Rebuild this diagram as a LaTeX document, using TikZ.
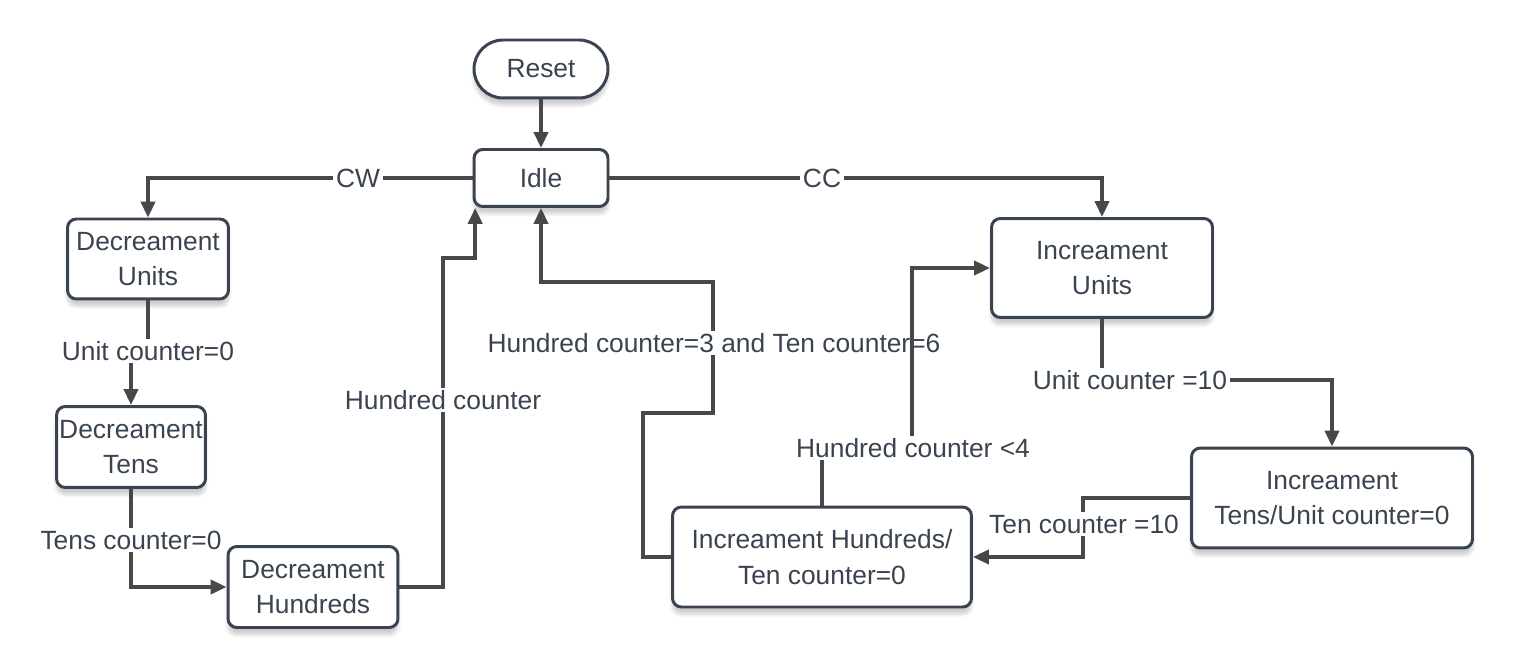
\documentclass[tikz,border=0pt]{standalone}
\usepackage{fontspec}
\setmainfont{Liberation Sans}
\usetikzlibrary{arrows.meta,shadows.blur}
\definecolor{boxc}{RGB}{58,68,80}
\definecolor{linec}{RGB}{72,72,72}
\begin{document}
\begin{tikzpicture}[x=0.02cm,y=-0.02cm,
  every node/.style={text=boxc, font=\fontsize{15}{20.4}\selectfont},
  state/.style={draw=boxc, line width=1.7pt, rounded corners=5pt, fill=white, align=center, inner sep=0pt,
    blur shadow={shadow xshift=0pt, shadow yshift=-4pt, shadow blur steps=6, shadow opacity=20}},
  conn/.style={draw=linec, line width=2pt, -{Triangle[length=9pt,width=8pt]}},
  lab/.style={fill=white, inner sep=1.5pt}]
\useasboundingbox (0,0) rectangle (1513,668);

\node[state, minimum width=2.68cm, minimum height=1.16cm, rounded corners=0.58cm] (reset) at (541,69) {Reset};
\node[state, minimum width=2.68cm, minimum height=1.14cm] (idle) at (541,178) {Idle};
\node[state, minimum width=3.22cm, minimum height=1.6cm] (du) at (148,259) {Decreament\\Units};
\node[state, minimum width=2.98cm, minimum height=1.62cm] (dt) at (131,447) {Decreament\\Tens};
\node[state, minimum width=3.4cm, minimum height=1.62cm] (dh) at (313,587) {Decreament\\Hundreds};
\node[state, minimum width=4.42cm, minimum height=1.98cm] (iu) at (1102,268) {Increament\\Units};
\node[state, minimum width=5.62cm, minimum height=2cm] (it) at (1332,498) {Increament\\Tens/Unit counter=0};
\node[state, minimum width=5.98cm, minimum height=2cm] (ih) at (822,557) {Increament Hundreds/\\Ten counter=0};

\draw[conn] (reset) -- (idle);

\draw[conn] (idle.west) -| (du.north);
\node[lab] (lcw) at (358,178) {CW};

\draw[conn] (idle.east) -| (iu.north);
\node[lab] (lcc) at (822,178) {CC};

\draw[conn] (du.south) -- (148,351) -- (131,351) -- (dt.north);
\node[lab] (luc) at (148,351) {Unit counter=0};

\draw[conn] (dt.south) |- (dh.west);
\node[lab] (ltc) at (131,540) {Tens counter=0};

\draw[conn] (dh.east) -| (443,258) -| ([xshift=1.5pt]idle.south west);
\node[lab] (lhc) at (443,400) {Hundred counter};

\draw[conn] (ih.west) -| (643,413) -| (713,282) -| (idle.south);
\node[lab] (lhc3) at (714,343) {Hundred counter=3 and Ten counter=6};

\draw[conn] (ih.north) -- (822,448) -- (912,448) |- (iu.west);
\node[lab] (lhc4) at (913,448) {Hundred counter <4};

\draw[conn] (iu.south) |- (1332,380) -- (it.north);
\node[lab] (luc10) at (1130,380) {Unit counter =10};

\draw[conn] (it.west) -| (1083,557) -- (ih.east);
\node[lab] (ltc10) at (1084,524) {Ten counter =10};
\end{tikzpicture}
\end{document}
